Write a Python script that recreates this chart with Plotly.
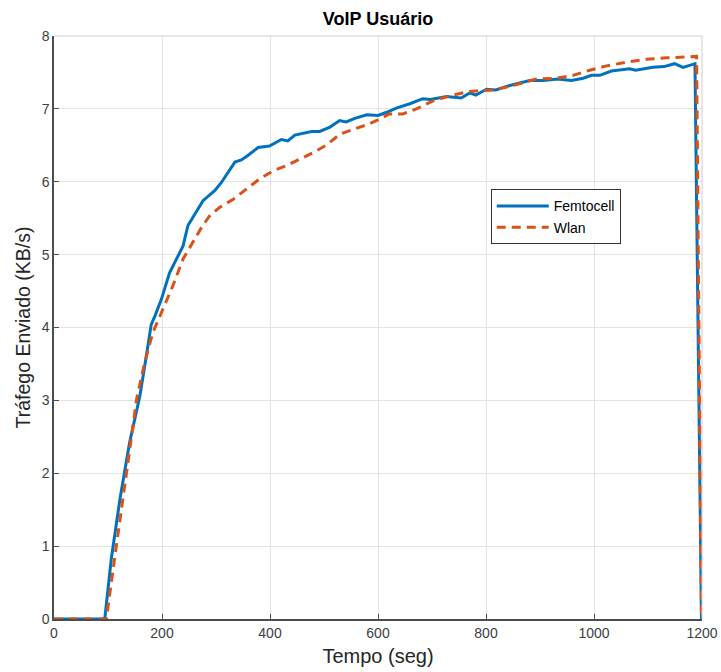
import plotly.graph_objects as go

femto_t = [0, 94, 106, 122, 140, 159, 171, 180, 187, 199, 214, 239, 248, 264, 276, 298,
           310, 335, 347, 359, 378, 399, 421, 433, 446, 477, 492, 511, 529, 541, 557, 579,
           600, 615, 634, 659, 683, 697, 727, 754, 770, 781, 801, 818, 844, 881, 906, 933,
           958, 980, 995, 1011, 1032, 1066, 1077, 1109, 1130, 1149, 1165, 1187, 1199]
femto_y = [0, 0, 0.82, 1.64, 2.42, 3.06, 3.61, 4.04, 4.16, 4.39, 4.75, 5.12, 5.40, 5.60, 5.74, 5.88,
           5.99, 6.27, 6.30, 6.36, 6.47, 6.49, 6.58, 6.56, 6.64, 6.69, 6.69, 6.75, 6.84, 6.82, 6.87, 6.92,
           6.91, 6.95, 7.01, 7.07, 7.14, 7.13, 7.17, 7.15, 7.22, 7.19, 7.27, 7.26, 7.32, 7.39, 7.39, 7.41,
           7.39, 7.42, 7.46, 7.46, 7.52, 7.55, 7.53, 7.57, 7.58, 7.62, 7.57, 7.62, 0]

wlan_t = [0, 97, 112, 125, 137, 153, 168, 183, 196, 220, 239, 257, 273, 288, 307, 332, 356, 381,
          406, 430, 455, 480, 504, 529, 554, 579, 603, 621, 646, 671, 702, 733, 770, 813, 850,
          893, 930, 961, 992, 1023, 1060, 1097, 1134, 1177, 1190, 1199]
wlan_y = [0, 0, 0.82, 1.55, 2.15, 3.02, 3.52, 3.93, 4.16, 4.57, 4.94, 5.17, 5.37, 5.53, 5.65, 5.76,
          5.90, 6.04, 6.15, 6.22, 6.31, 6.40, 6.50, 6.65, 6.72, 6.78, 6.86, 6.93, 6.93, 7.00, 7.11,
          7.18, 7.24, 7.26, 7.32, 7.41, 7.42, 7.46, 7.53, 7.59, 7.64, 7.68, 7.70, 7.72, 7.72, 0]

x_ticks = [0, 200, 400, 600, 800, 1000, 1200]
y_ticks = [0, 1, 2, 3, 4, 5, 6, 7, 8]

fig = go.Figure()
fig.add_trace(go.Scatter(x=femto_t, y=femto_y, mode="lines", name="Femtocell",
                         line=dict(color="#0072BD", width=3)))
fig.add_trace(go.Scatter(x=wlan_t, y=wlan_y, mode="lines", name="Wlan",
                         line=dict(color="#D95319", width=3, dash="9px,6px")))

axis_common = dict(showgrid=True, gridcolor="#e3e3e3", gridwidth=1, zeroline=False,
                   showline=True, linecolor="#4d4d4d", linewidth=1.5,
                   ticks="inside", ticklen=5, tickcolor="#4d4d4d", automargin=False,
                   tickfont=dict(family="Arial, Liberation Sans", size=14, color="#404040"))

fig.update_xaxes(range=[0, 1200], tickvals=x_ticks,
                 title=dict(text="Tempo (seg)", font=dict(family="Arial, Liberation Sans", size=20, color="#262626"),
                            standoff=9),
                 **axis_common)
fig.update_yaxes(range=[0, 8], tickvals=y_ticks,
                 title=dict(text="Tráfego Enviado (KB/s)", font=dict(family="Arial, Liberation Sans", size=19.5, color="#262626"),
                            standoff=6),
                 **axis_common)

# light box on top and right
fig.add_shape(type="line", xref="paper", yref="paper", x0=0, x1=1, y0=1, y1=1,
              line=dict(color="#d0d0d0", width=1))
fig.add_shape(type="line", xref="paper", yref="paper", x0=1, x1=1, y0=0, y1=1,
              line=dict(color="#d0d0d0", width=1))

fig.update_layout(
    width=721, height=672,
    margin=dict(l=54, r=19, t=36, b=53),
    plot_bgcolor="white", paper_bgcolor="white",
    title=dict(text="<b>VoIP Usuário</b>", x=0.5, xref="paper", xanchor="center",
               y=1 - 19 / 672, yanchor="middle",
               font=dict(family="Arial, Liberation Sans", size=18, color="#000000")),
    legend=dict(x=0.674, y=0.737, xanchor="left", yanchor="top",
                bordercolor="#333333", borderwidth=1, bgcolor="white",
                itemwidth=52,
                font=dict(family="Arial, Liberation Sans", size=14, color="#000000"),
                tracegroupgap=0),
    showlegend=True,
)

fig.write_html("out.html")
